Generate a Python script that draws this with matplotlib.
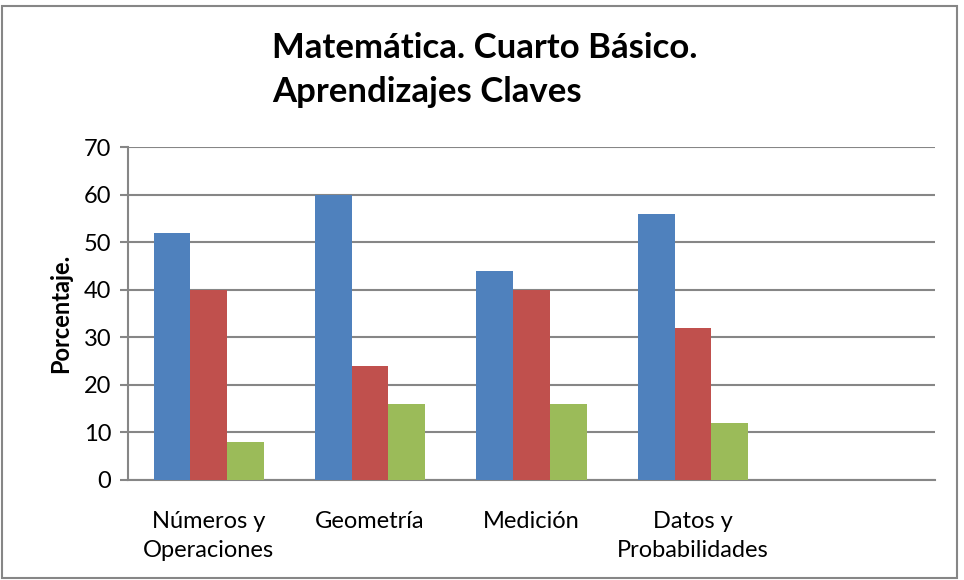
import matplotlib.pyplot as plt
import numpy as np
from matplotlib.patches import Rectangle

categories = ['Números y\nOperaciones', 'Geometría', 'Medición', 'Datos y\nProbabilidades', '']
serie1 = [52, 60, 44, 56, 0]
serie2 = [40, 24, 40, 32, 0]
serie3 = [8, 16, 16, 12, 0]
colors = ['#4F81BD', '#C0504D', '#9BBB59']

plt.rcParams['font.family'] = ['Lato', 'DejaVu Sans']

fig = plt.figure(figsize=(9.64, 5.80), dpi=100)
ax = fig.add_axes([128/964, 1 - 480/580, (935 - 128)/964, (480 - 147)/580])

x = np.arange(len(categories))
w = 0.228
for i, vals in enumerate([serie1, serie2, serie3]):
    ax.bar(x + (i - 1) * w, vals, width=w, color=colors[i], zorder=3)

ax.set_xlim(-0.5, len(categories) - 0.5)
ax.set_ylim(0, 70)
ax.set_yticks(range(0, 71, 10))
ax.set_xticks(x)
ax.set_xticklabels(categories, fontsize=17, linespacing=1.5)
ax.tick_params(axis='x', length=0, pad=22)
ax.tick_params(axis='y', labelsize=17, length=6, color='#868686', width=1.5, pad=6)
ax.grid(axis='y', color='#868686', linewidth=1.5, zorder=0)
for s in ['top', 'right']:
    ax.spines[s].set_visible(False)
for s in ['left', 'bottom']:
    ax.spines[s].set_color('#868686')
    ax.spines[s].set_linewidth(1.5)
ax.set_ylabel('Porcentaje.', fontsize=17, fontweight='bold', labelpad=8)

fig.text(272/964, 1 - 48/580, 'Matemática. Cuarto Básico.',
         fontsize=25, fontweight='bold', ha='left', va='center')
fig.text(272/964, 1 - 92/580, 'Aprendizajes Claves',
         fontsize=25, fontweight='bold', ha='left', va='center')

fig.patches.append(Rectangle((2/964, 2/580), 955/964, 572/580, transform=fig.transFigure,
                             fill=False, edgecolor='#868686', linewidth=1.5))

fig.savefig('out.png', dpi=100)
